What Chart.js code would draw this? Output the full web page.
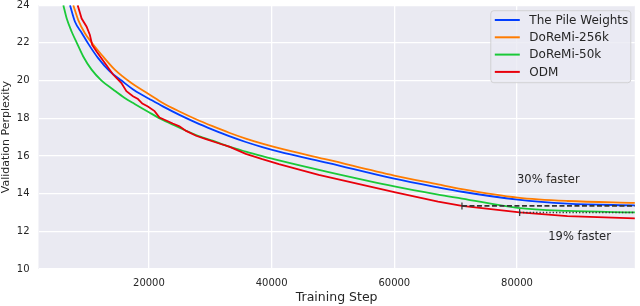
<!DOCTYPE html>
<html>
<head>
<meta charset="utf-8">
<script src="https://cdn.jsdelivr.net/npm/chart.js@4/dist/chart.umd.min.js"></script>
<style>
  body { margin: 0; background: #fff; }
  #wrap { width: 640px; height: 306px; position: relative; }
</style>
</head>
<body>
<div id="wrap"><canvas id="chart"></canvas></div>
<script>
// values
const xTicks = [20000, 40000, 60000, 80000];
const yTicks = [10, 12, 14, 16, 18, 20, 22, 24];

const pileSteps = [7135, 7946, 9032, 10103, 11724, 13621, 15519, 17675, 20000, 22265, 24973, 27681, 30373, 33081, 35789, 38481, 41189, 49297, 60000, 67134, 71026, 80108, 88215, 99400];
const pileVals  = [24.0, 23.12, 22.54, 21.96, 21.19, 20.49, 20.0, 19.47, 19.04, 18.63, 18.18, 17.77, 17.4, 17.05, 16.74, 16.47, 16.23, 15.62, 14.79, 14.33, 14.1, 13.68, 13.47, 13.37];

const doremi256Steps = [7670, 8481, 9568, 10654, 12276, 14433, 17140, 20000, 22265, 24973, 27681, 30373, 33081, 35789, 38481, 41189, 49297, 60000, 67134, 71026, 80108, 88215, 99400];
const doremi256Vals  = [24.0, 23.21, 22.51, 22.02, 21.37, 20.58, 19.87, 19.28, 18.81, 18.36, 17.95, 17.58, 17.23, 16.92, 16.65, 16.41, 15.79, 14.96, 14.49, 14.24, 13.79, 13.61, 13.51];

const doremi50Steps = [6049, 6600, 7411, 8221, 9292, 10654, 12276, 14157, 16054, 17675, 20000, 22265, 24973, 27681, 30373, 33081, 35789, 38481, 41189, 49297, 60000, 67134, 71026, 80108, 88215, 99400];
const doremi50Vals  = [24.0, 23.29, 22.59, 22.02, 21.28, 20.58, 20.0, 19.53, 19.08, 18.76, 18.32, 17.91, 17.5, 17.11, 16.81, 16.49, 16.23, 15.99, 15.76, 15.14, 14.38, 13.95, 13.74, 13.24, 13.08, 13.0];

const odmSteps = [8384, 9032, 9843, 10378, 10751, 11465, 12811, 14157, 15519, 16330, 17400, 18211, 18924, 19832, 20919, 21729, 22816, 23886, 24973, 26059, 27681, 29303, 31459, 33081, 35789, 38481, 41189, 47675, 60000, 67134, 71026, 80431, 88215, 99400];
const odmVals  = [24.0, 23.29, 22.86, 22.42, 21.89, 21.54, 20.93, 20.32, 19.87, 19.44, 19.17, 19.02, 18.78, 18.62, 18.38, 18.04, 17.88, 17.72, 17.57, 17.33, 17.07, 16.89, 16.66, 16.49, 16.11, 15.83, 15.57, 15.0, 14.08, 13.58, 13.35, 13.0, 12.81, 12.68];

// "faster" reference lines
const fast30Steps = [71026, 99400];
const fast30Vals  = [13.35, 13.35];
const fast19Steps = [80431, 99400];
const fast19Vals  = [13.0, 13.0];

const notes = [
  { text: '30% faster', x: 80000, y: 14.7 },
  { text: '19% faster', x: 85100, y: 11.7 }
];

const pts = (xs, ys) => xs.map((x, i) => ({ x: x, y: ys[i] }));
const FONT = "'DejaVu Sans', sans-serif";
const INK = '#262626';

// legend drawn inside the plot, top right
const boxLegend = {
  id: 'boxLegend',
  afterDraw(chart) {
    const ctx = chart.ctx;
    const items = chart.data.datasets.filter(d => !d.noLegend);
    const a = chart.chartArea;
    const x0 = a.right - 144, y0 = a.top + 5.5, w = 140, h = 72;
    ctx.save();
    ctx.beginPath();
    ctx.roundRect(x0, y0, w, h, 3);
    ctx.fillStyle = 'rgba(234,234,242,0.8)';
    ctx.fill();
    ctx.strokeStyle = 'rgba(204,204,204,0.8)';
    ctx.lineWidth = 1;
    ctx.stroke();
    ctx.font = '12px ' + FONT;
    ctx.textBaseline = 'middle';
    items.forEach((d, i) => {
      const y = y0 + 9.3 + i * 17.3;
      ctx.strokeStyle = d.borderColor;
      ctx.lineWidth = 2;
      ctx.beginPath();
      ctx.moveTo(x0 + 4, y);
      ctx.lineTo(x0 + 29, y);
      ctx.stroke();
      ctx.fillStyle = INK;
      ctx.fillText(d.label, x0 + 38.5, y + 0.5);
    });
    ctx.restore();
  }
};

// text notes placed at data coordinates
const noteText = {
  id: 'noteText',
  afterDatasetsDraw(chart) {
    const ctx = chart.ctx;
    ctx.save();
    ctx.font = '11.5px ' + FONT;
    ctx.fillStyle = INK;
    ctx.textBaseline = 'middle';
    notes.forEach(n => {
      ctx.fillText(n.text, chart.scales.x.getPixelForValue(n.x), chart.scales.y.getPixelForValue(n.y));
    });
    ctx.restore();
  }
};

// seaborn-ish grey plot background
const plotBg = {
  id: 'plotBg',
  beforeDraw(chart) {
    const a = chart.chartArea;
    chart.ctx.save();
    chart.ctx.fillStyle = '#eaeaf2';
    chart.ctx.fillRect(a.left, a.top, a.right - a.left, a.bottom - a.top);
    chart.ctx.restore();
  }
};

const line = (label, xs, ys, color, order, smooth) => ({
  label: label,
  data: pts(xs, ys),
  borderColor: color,
  backgroundColor: color,
  borderWidth: 1.8,
  pointRadius: 0,
  cubicInterpolationMode: smooth ? 'monotone' : 'default',
  tension: 0,
  order: order
});

new Chart(document.getElementById('chart'), {
  type: 'line',
  data: {
    datasets: [
      line('The Pile Weights', pileSteps, pileVals, '#023eff', 4, true),
      line('DoReMi-256k', doremi256Steps, doremi256Vals, '#ff7c00', 3, true),
      line('DoReMi-50k', doremi50Steps, doremi50Vals, '#1ac938', 2, true),
      line('ODM', odmSteps, odmVals, '#e8000b', 1, false),
      {
        label: '30% faster', noLegend: true,
        data: pts(fast30Steps, fast30Vals),
        borderColor: '#333333', borderWidth: 1.6, borderDash: [5, 2.5],
        pointStyle: 'line', rotation: 90, pointRadius: [3.5, 0],
        pointBorderColor: '#333333', pointBorderWidth: 1.2, order: 0
      },
      {
        label: '19% faster', noLegend: true,
        data: pts(fast19Steps, fast19Vals),
        borderColor: '#333333', borderWidth: 1.6, borderDash: [1.3, 2],
        pointStyle: 'line', rotation: 90, pointRadius: [3.5, 0],
        pointBorderColor: '#333333', pointBorderWidth: 1.2, order: 0
      }
    ]
  },
  options: {
    responsive: true,
    maintainAspectRatio: false,
    animation: false,
    layout: { padding: { top: 3.5, right: 2, left: 0, bottom: 0 } },
    plugins: {
      legend: { display: false },
      tooltip: { enabled: false }
    },
    scales: {
      x: {
        type: 'linear',
        min: 2000,
        max: 99200,
        afterBuildTicks: s => { s.ticks = xTicks.map(v => ({ value: v })); },
        afterFit: s => { s.height = 37; s.paddingLeft = 0; s.paddingRight = 0; },
        grid: { color: '#ffffff', lineWidth: 1.3, drawTicks: false },
        border: { display: false },
        ticks: { color: INK, font: { family: FONT, size: 10 }, padding: 8, maxRotation: 0, callback: v => String(v) },
        title: { display: true, text: 'Training Step', color: INK, font: { family: FONT, size: 12.5 }, padding: { top: 0, bottom: 0.5 } }
      },
      y: {
        min: 10,
        max: 24,
        afterBuildTicks: s => { s.ticks = yTicks.map(v => ({ value: v })); },
        afterFit: s => { s.width = 38.5; s.paddingTop = 0; s.paddingBottom = 0; },
        grid: { color: '#ffffff', lineWidth: 1.3, drawTicks: false },
        border: { display: false },
        ticks: { color: INK, font: { family: FONT, size: 10 }, padding: 9 },
        title: { display: true, text: 'Validation Perplexity', color: INK, font: { family: FONT, size: 11 }, padding: { top: 0, bottom: 0 } }
      }
    }
  },
  plugins: [plotBg, boxLegend, noteText]
});
</script>
</body>
</html>
